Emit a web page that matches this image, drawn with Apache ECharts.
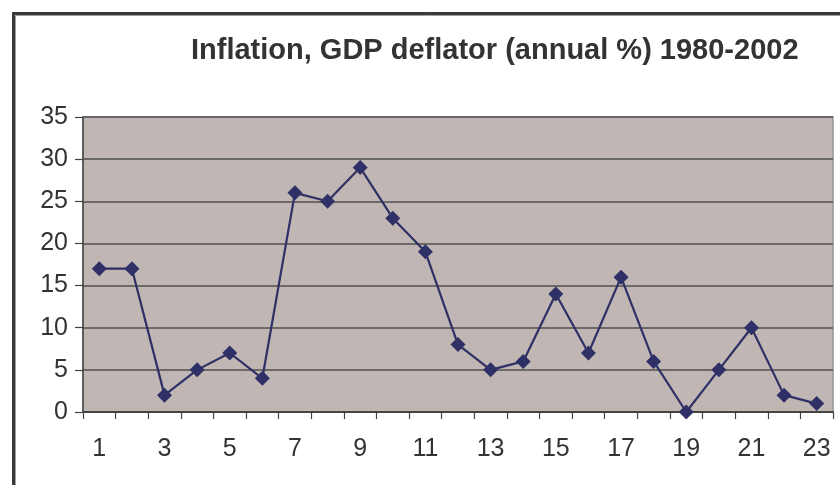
<!DOCTYPE html>
<html>
<head>
<meta charset="utf-8">
<style>
  html, body { margin: 0; padding: 0; background: #fff; }
  #chart { width: 840px; height: 485px; }
</style>
<script src="https://cdn.jsdelivr.net/npm/echarts@6/dist/echarts.min.js"></script>
</head>
<body>
<div id="chart"></div>
<script>
// Year index 1..23 (1980-2002)
const categories = ['1','2','3','4','5','6','7','8','9','10','11','12','13','14','15','16','17','18','19','20','21','22','23'];
// GDP deflator inflation, annual %
const inflation = [17, 17, 2, 5, 7, 4, 26, 25, 29, 23, 19, 8, 5, 6, 14, 7, 16, 6, 0, 5, 10, 2, 1];
const titleText = 'Inflation, GDP deflator (annual %) 1980-2002';

const chart = echarts.init(document.getElementById('chart'), null, { renderer: 'canvas' });

chart.setOption({
  backgroundColor: '#ffffff',
  animation: false,
  title: {
    text: titleText,
    left: 186,
    top: 31,
    textStyle: {
      fontFamily: 'Liberation Sans',
      fontWeight: 'bold',
      fontSize: 29,
      color: '#333336'
    }
  },
  graphic: [
    {
      type: 'rect',
      silent: true,
      z: 100,
      shape: { x: 13.5, y: 13.5, width: 900, height: 600 },
      style: { fill: null, stroke: '#3a3a3e', lineWidth: 3 }
    },
    {
      type: 'rect',
      silent: true,
      z: 100,
      shape: { x: 15.5, y: 15.5, width: 900, height: 600 },
      style: { fill: null, stroke: '#a0a0a0', lineWidth: 1 }
    }
  ],
  grid: {
    left: 83,
    right: 7,
    top: 117,
    bottom: 73,
    show: true,
    backgroundColor: '#c0b6b3',
    borderColor: '#9a9494',
    borderWidth: 1.5
  },
  xAxis: {
    type: 'category',
    data: categories,
    boundaryGap: true,
    axisLine: { show: true, lineStyle: { color: '#444', width: 2 } },
    axisTick: { show: true, interval: 0, length: 7, inside: false, lineStyle: { color: '#444', width: 1.2 } },
    axisLabel: {
      interval: 1,
      margin: 25,
      fontFamily: 'Liberation Sans',
      fontSize: 25,
      color: '#333336'
    },
    splitLine: { show: false }
  },
  yAxis: {
    type: 'value',
    min: 0,
    max: 35,
    interval: 5,
    axisLine: { show: true, lineStyle: { color: '#444', width: 1.5 } },
    axisTick: { show: true, length: 8, lineStyle: { color: '#444', width: 1.2 } },
    axisLabel: {
      margin: 15,
      fontFamily: 'Liberation Sans',
      fontSize: 25,
      color: '#333336'
    },
    splitLine: { show: true, lineStyle: { color: '#505050', width: 1.5 } }
  },
  series: [
    {
      type: 'line',
      data: inflation,
      symbol: 'diamond',
      symbolSize: 15,
      itemStyle: { color: '#2e3066' },
      lineStyle: { color: '#2e3066', width: 2.2 },
      z: 5
    }
  ]
});
</script>
</body>
</html>
